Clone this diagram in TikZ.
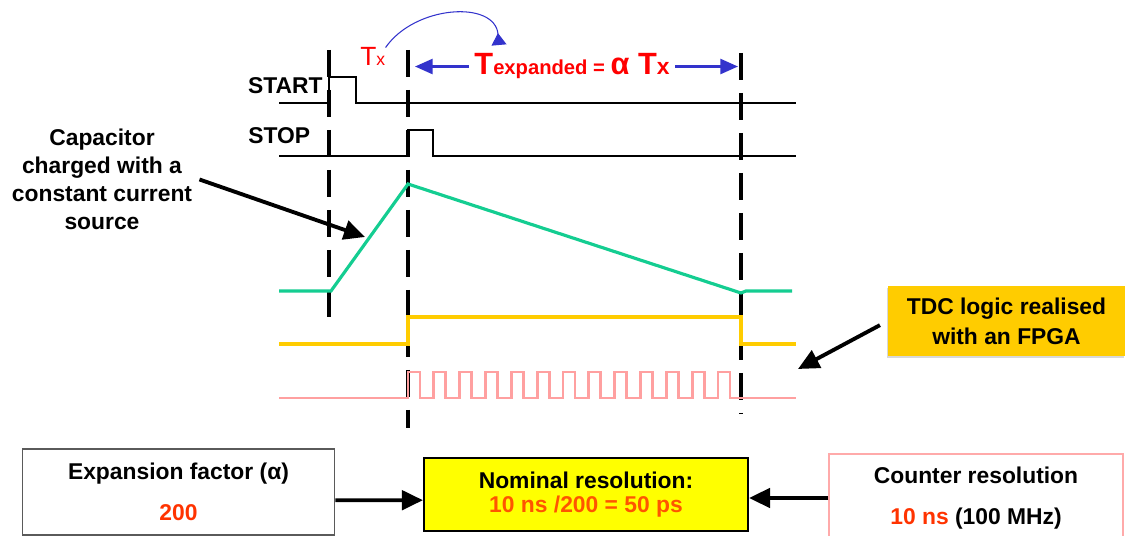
\documentclass[tikz,border=0pt]{standalone}
\usepackage{fontspec}
\setmainfont{Liberation Sans}
\usetikzlibrary{arrows.meta,shadows}

\begin{document}
\begin{tikzpicture}[x=0.02cm, y=-0.02cm,
  txt/.style={font=\fontsize{13}{15.6}\selectfont\bfseries, inner sep=0pt},
  wave/.style={line width=1.6pt, line join=miter},
  gridline/.style={line width=2pt, dash pattern=on 0.54cm off 0.26cm},
  bigarrow/.style={line width=2.2pt, -{Triangle[length=12pt,width=11pt]}},
  bluearrow/.style={draw=arrowblue, line width=1.4pt, -{Triangle[length=10pt,width=8.5pt]}},
  loopcurve/.style={draw=arrowblue, line width=0.6pt, -{Triangle[reversed,length=6.8pt,width=8.5pt]}},
  infobox/.style={rectangle, align=center, inner sep=0pt,
    font=\fontsize{13}{15.6}\selectfont\bfseries}]

% === Colors ===
\definecolor{texred}{RGB}{255,0,0}
\definecolor{arrowblue}{RGB}{51,51,204}
\definecolor{capgreen}{RGB}{20,205,145}
\definecolor{goldline}{RGB}{255,204,0}
\definecolor{pinkline}{RGB}{255,160,160}
\definecolor{nomyellow}{RGB}{255,255,0}
\definecolor{redorange}{RGB}{255,51,0}
\definecolor{nomorange}{RGB}{255,85,0}
\definecolor{boxpink}{RGB}{255,170,170}
\definecolor{boxgray}{RGB}{90,90,90}

\useasboundingbox (0,0) rectangle (1127,536);

% === Dashed time markers ===
\draw[gridline] (329,50) -- (329,326);
\draw[gridline] (408,50) -- (408,428);
\draw[gridline] (741,53) -- (741,413);

% === START / STOP ===
\node[txt, anchor=east] (start) at (323,86) {START};
\node[txt, anchor=west] (stop) at (248,136) {STOP};
\draw[wave] (279,103) -- (329,103) -- (329,77) -- (356,77) -- (356,103) -- (796,103);
\draw[wave] (279,156) -- (408,156) -- (408,130) -- (433,130) -- (433,156) -- (796,156);

% === Capacitor ramp ===
\draw[wave, capgreen, line width=1.8pt]
  (279,291) -- (331,291) -- (408,184) -- (741,293) -- (746,291) -- (792,291);

% === Gate (yellow) ===
\draw[wave, goldline, line width=1.8pt]
  (279,344) -- (408,344) -- (408,317) -- (741,317) -- (741,344) -- (796,344);

% === Clock (pink) ===
\draw[wave, pinkline]
  (279,398) foreach \k in {0,...,12}{
    -- ({408+\k*25.83},398) -- ++(0,-26) -- ++(12,0) -- ++(0,26)
  } -- (796,398);

% === Tx and expanded time ===
\node[anchor=base west, text=texred, inner sep=0pt] (tx) at (360,66)
  {{\fontsize{15}{15}\selectfont T}{\fontsize{10}{10}\selectfont x}};
\coordinate (cend) at (499,45);
\draw[loopcurve] (tx.north east) .. controls (415,5) and (495,0) .. (cend);

\node[anchor=base, text=texred, font=\bfseries, inner sep=3pt] (texp) at (572,75)
  {{\fontsize{17.5}{18}\selectfont T}{\fontsize{11.5}{12}\selectfont expanded = }{\fontsize{17.5}{18}\selectfont α T}{\fontsize{13}{14}\selectfont x}};
\coordinate (ltip) at (415,65);
\coordinate (rtip) at (738,65);
\draw[bluearrow] (texp.west) -- (texp.west -| ltip);
\draw[bluearrow] (texp.east) -- (texp.east -| rtip);

% === Callouts ===
\node[txt, align=center, font=\fontsize{13}{15.9}\selectfont\bfseries] (cap) at (102,179.5)
  {Capacitor\\charged with a\\constant current\\source};
\coordinate (ramp) at (365,237);
\draw[bigarrow] ([xshift=4pt]cap.east) -- (ramp);

\node[infobox, fill=goldline, minimum width=4.74cm, minimum height=1.4cm,
  font=\fontsize{13}{17}\selectfont\bfseries,
  drop shadow={shadow xshift=-0.6pt, shadow yshift=-1pt, fill=black!30}] (tdc) at (1006.5,321)
  {TDC logic realised\\with an FPGA};
\coordinate (fpga) at (798,369);
\draw[bigarrow, shorten <=5pt] (tdc.west) -- (fpga);

% === Resolution boxes ===
\node[infobox, draw=boxgray, line width=0.6pt, minimum width=6.26cm, minimum height=1.72cm] (expbox) at (178.5,492)
  {Expansion factor (α)\\[8pt]{\color{redorange}200}};
\node[infobox, draw, fill=nomyellow, line width=1.2pt, minimum width=6.48cm, minimum height=1.46cm] (nombox) at (586,494.5)
  {Nominal resolution:\\[-1.5pt]{\color{nomorange}10 ns /200 = 50 ps}};
\node[infobox, draw=boxpink, line width=0.8pt, minimum width=5.88cm, minimum height=1.76cm] (cntbox) at (976,498)
  {Counter resolution\\[7.5pt]{\color{redorange}10 ns} (100 MHz)};

\draw[bigarrow] (expbox.-3) -- (nombox.182);
\draw[bigarrow] (cntbox.west) -- (cntbox.west -| nombox.east);

\end{tikzpicture}
\end{document}
